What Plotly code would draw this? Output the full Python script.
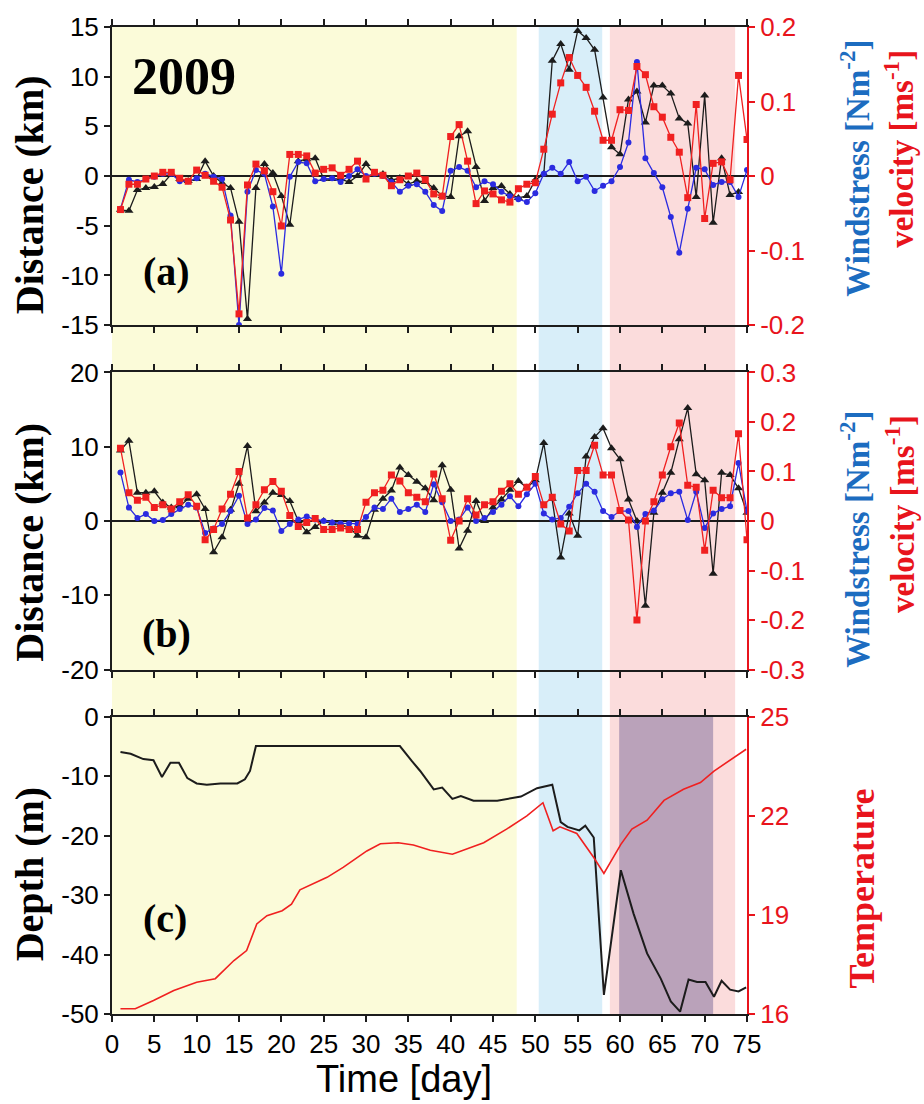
import plotly.graph_objects as go

# ---------------- data ----------------
days = list(range(1, 76))

# panel (a)
dist_a = [-3.4, -3.5, -1.4, -1.2, -1.1, -0.8, 0.2, -0.3, -0.5, -0.3,
          1.5, 0.0, -0.7, -1.2, -4.6, -14.4, -1.2, 1.2, 0.3, -2.0,
          -4.9, 1.5, 1.7, 1.8, -0.3, -0.3, -0.3, -0.6, 0.0, 1.2,
          0.2, 0.2, -0.4, -0.2, -0.8, -0.5, -0.6, -1.2, -2.0, -2.1,
          4.0, 4.5, 0.9, -2.5, -1.2, -1.0, -1.8, -2.2, -2.0, -0.4,
          0.2, 11.6, 13.3, 10.7, 14.6, 13.9, 12.7, 7.9, 2.9, 2.2,
          7.7, 8.5, 5.4, 9.1, 9.1, 8.3, 5.8, 5.3, -2.1, 8.1,
          -4.7, 1.8, -1.9, -1.6, None]
vel_a = [-0.045, -0.011, -0.011, -0.004, 0.0, 0.005, 0.005, -0.003, -0.007, 0.008,
         0.001, -0.007, -0.015, -0.059, -0.185, -0.012, 0.016, 0.007, -0.021, -0.067,
         0.029, 0.029, 0.027, 0.004, 0.009, 0.011, 0.001, 0.009, 0.020, -0.004,
         0.005, 0.001, -0.013, -0.005, 0.0, 0.004, -0.005, -0.024, -0.027, 0.053,
         0.069, 0.020, -0.037, -0.020, -0.024, -0.032, -0.035, -0.017, -0.011, -0.009,
         0.036, 0.083, 0.125, 0.159, 0.135, 0.119, 0.087, 0.048, 0.048, 0.089,
         0.088, 0.147, 0.136, 0.093, 0.079, 0.052, 0.032, -0.029, 0.096, -0.057,
         0.017, 0.019, -0.005, 0.135, 0.049]
ws_a = [-0.044, -0.005, -0.008, -0.004, -0.001, 0.003, 0.003, -0.007, -0.007, -0.003,
        0.003, -0.001, -0.004, -0.053, -0.200, -0.021, 0.008, 0.003, -0.041, -0.131,
        -0.001, 0.019, 0.017, -0.007, -0.004, -0.003, -0.008, 0.0, 0.009, 0.0,
        0.003, 0.0, -0.008, -0.021, -0.013, -0.011, -0.021, -0.039, -0.047, 0.007,
        0.012, 0.007, -0.015, -0.007, -0.011, -0.021, -0.027, -0.031, -0.035, -0.023,
        0.003, 0.011, 0.003, 0.019, -0.007, -0.001, -0.020, -0.013, -0.007, 0.012,
        0.045, 0.153, 0.024, 0.004, -0.015, -0.055, -0.103, -0.044, 0.011, 0.009,
        -0.012, -0.008, -0.008, -0.028, 0.008]

# panel (b)
dist_b = [9.5, 10.8, 3.8, 3.8, 4.0, 2.5, 1.8, 2.0, 3.0, 3.6,
          1.6, -4.2, -2.2, 1.5, 5.0, 10.1, 1.3, 2.5, 3.8, 3.5,
          2.7, 0.0, -1.5, -0.8, 0.0, -0.3, -0.5, -0.8, -2.0, -2.2,
          1.5, 3.0, 4.1, 7.2, 6.2, 5.3, 4.4, 2.8, 7.5, 4.2,
          -3.7, -1.3, 2.7, 0.0, 1.8, 2.9, 4.2, 5.4, 4.5, 5.5,
          10.5, 3.0, -4.9, 1.0, -2.0, 8.7, 11.3, 12.5, 9.8, 8.3,
          2.9, 0.0, -11.4, 1.1, 3.8, 6.5, 11.0, 15.2, 6.3, 5.5,
          -7.1, 6.5, 6.2, 4.4, 1.1]
vel_b = [0.147, 0.057, 0.042, 0.048, 0.027, 0.033, 0.024, 0.039, 0.053, 0.030,
         -0.038, -0.017, 0.024, 0.054, 0.100, 0.006, 0.033, 0.063, 0.080, 0.060,
         0.011, -0.011, -0.003, 0.005, -0.017, -0.017, -0.014, -0.017, -0.017, 0.038,
         0.057, 0.062, 0.093, 0.081, 0.057, 0.048, 0.039, 0.095, 0.045, -0.039,
         0.0, 0.045, 0.012, 0.033, 0.039, 0.060, 0.075, 0.054, 0.068, 0.090,
         0.033, 0.048, -0.006, -0.020, 0.102, 0.102, 0.153, 0.093, 0.093, 0.021,
         0.002, -0.200, 0.0, 0.039, 0.093, 0.150, 0.198, 0.072, 0.068, -0.059,
         0.062, 0.047, 0.047, 0.176, -0.038]
ws_b = [0.098, 0.027, 0.006, 0.014, 0.0, 0.002, 0.014, 0.024, 0.033, 0.027,
        -0.024, -0.015, -0.006, 0.020, 0.051, -0.006, 0.003, 0.026, 0.021, -0.020,
        -0.006, 0.003, 0.009, 0.003, 0.0, -0.003, -0.005, -0.005, -0.006, 0.008,
        0.027, 0.024, 0.045, 0.018, 0.024, 0.033, 0.018, 0.074, 0.038, 0.0,
        0.003, 0.027, 0.0, 0.006, 0.018, 0.033, 0.050, 0.030, 0.054, 0.075,
        0.015, 0.003, 0.006, 0.029, 0.056, 0.075, 0.059, 0.020, 0.008, 0.020,
        0.020, -0.012, 0.014, 0.021, 0.044, 0.056, 0.059, 0.002, 0.059, -0.014,
        0.015, 0.024, 0.030, 0.117, 0.020]

# panel (c)
depth_day = [1.0, 2.2, 3.7, 4.9, 5.9, 6.9, 7.9, 8.9, 10.0, 11.2,
             12.8, 14.8, 15.7, 16.3, 17.0, 34.0, 35.4, 36.4, 38.0, 39.0,
             40.2, 41.2, 42.7, 45.5, 48.3, 50.2, 52.0, 53.0, 53.8, 55.2,
             55.9, 56.9, 58.1, 60.1, 61.6, 63.2, 64.8, 66.0, 67.1, 68.1,
             69.1, 70.1, 71.1, 72.0, 73.0, 74.0, 74.9]
depth_m = [-5.9, -6.2, -7.1, -7.3, -10.1, -7.7, -7.7, -10.3, -11.2, -11.4,
           -11.2, -11.2, -10.5, -9.1, -4.9, -4.9, -7.4, -9.1, -12.2, -11.9,
           -13.8, -13.3, -14.1, -14.1, -13.4, -12.0, -11.4, -17.7, -18.5, -19.1,
           -18.3, -20.3, -46.8, -25.8, -33.1, -39.8, -44.0, -47.9, -49.6, -44.2,
           -44.6, -44.6, -47.1, -44.4, -45.9, -46.2, -45.5]
temp_day = [1.0, 2.75, 4.9, 7.3, 10.0, 12.2, 14.4, 15.9, 17.1, 18.3,
            20.1, 21.2, 22.2, 23.8, 25.4, 27.3, 28.5, 30.1, 31.7, 33.8,
            35.6, 37.6, 40.2, 41.5, 43.9, 46.6, 49.0, 50.9, 52.1, 52.9,
            54.9, 56.9, 58.1, 60.1, 61.4, 63.2, 65.2, 67.5, 69.5, 71.1,
            72.6, 74.9]
temp_c = [16.16, 16.16, 16.41, 16.71, 16.96, 17.07, 17.62, 17.92, 18.73, 18.98,
          19.13, 19.33, 19.76, 19.96, 20.14, 20.44, 20.66, 20.94, 21.16, 21.19,
          21.12, 20.96, 20.84, 20.96, 21.19, 21.6, 22.0, 22.4, 21.55, 21.67,
          21.47, 20.74, 20.26, 21.14, 21.6, 21.87, 22.47, 22.81, 23.01, 23.36,
          23.61, 24.02]

# shaded periods (days)
yellow_period = [0, 47.8]
blue_period = [50.4, 57.9]
pink_period = [58.8, 73.6]
purple_period = [59.9, 71.0]

x_ticks = list(range(0, 80, 5))
x_ticklabels = [str(v) for v in x_ticks]
ya_ticks = [-15, -10, -5, 0, 5, 10, 15]
ya_labels = ["-15", "-10", "-5", "0", "5", "10", "15"]
ya2_ticks = [-0.2, -0.1, 0, 0.1, 0.2]
ya2_labels = ["-0.2", "-0.1", "0", "0.1", "0.2"]
yb_ticks = [-20, -10, 0, 10, 20]
yb_labels = ["-20", "-10", "0", "10", "20"]
yb2_ticks = [-0.3, -0.2, -0.1, 0, 0.1, 0.2, 0.3]
yb2_labels = ["-0.3", "-0.2", "-0.1", "0", "0.1", "0.2", "0.3"]
yc_ticks = [-50, -40, -30, -20, -10, 0]
yc_labels = ["-50", "-40", "-30", "-20", "-10", "0"]
yc2_ticks = [16, 19, 22, 25]
yc2_labels = ["16", "19", "22", "25"]

# ---------------- style ----------------
RED = "#f02020"
RED_AX = "#e8141c"
BLUE = "#2b2be0"
BLACK = "#1c1c1c"
WS_BLUE = "#1c6cc0"
SANS = "Liberation Sans, Arial, sans-serif"
SERIF = "Liberation Serif, Times New Roman, serif"
TICK = dict(family=SANS, size=26, color="black")
TICK_R = dict(family=SANS, size=26, color=RED_AX)

fig = go.Figure()


def add_series(xa, yl, yr, dist, vel, ws):
    fig.add_trace(go.Scatter(x=days, y=dist, xaxis=xa, yaxis=yl, mode="lines+markers",
                             line=dict(color=BLACK, width=1.3),
                             marker=dict(symbol="triangle-up", size=8, color=BLACK),
                             connectgaps=False, showlegend=False))
    fig.add_trace(go.Scatter(x=days, y=ws, xaxis=xa, yaxis=yr, mode="lines+markers",
                             line=dict(color=BLUE, width=1.3),
                             marker=dict(symbol="circle", size=6, color=BLUE),
                             showlegend=False))
    fig.add_trace(go.Scatter(x=days, y=vel, xaxis=xa, yaxis=yr, mode="lines+markers",
                             line=dict(color=RED, width=1.3),
                             marker=dict(symbol="square", size=7, color=RED),
                             showlegend=False))


add_series("x", "y", "y2", dist_a, vel_a, ws_a)
add_series("x2", "y3", "y4", dist_b, vel_b, ws_b)

fig.add_trace(go.Scatter(x=depth_day, y=depth_m, xaxis="x3", yaxis="y5", mode="lines",
                         line=dict(color=BLACK, width=2), showlegend=False))
fig.add_trace(go.Scatter(x=temp_day, y=temp_c, xaxis="x3", yaxis="y6", mode="lines",
                         line=dict(color=RED, width=1.6), showlegend=False))

dom_a = [0.698, 1.0]
dom_b = [0.349, 0.650]
dom_c = [0.0, 0.301]


def xax(anchor, labels):
    return dict(domain=[0, 1], anchor=anchor, range=[0, 75], showline=True, linecolor=BLACK,
                linewidth=2, mirror="ticks", ticks="outside", ticklen=6, tickwidth=2,
                tickcolor=BLACK, tickvals=x_ticks, ticktext=x_ticklabels,
                showticklabels=labels, tickfont=TICK, showgrid=False, zeroline=False)


def yleft(dom, anchor, rng, tv, tt, zero):
    return dict(domain=dom, anchor=anchor, range=rng, showline=True, linecolor=BLACK,
                linewidth=2, ticks="outside", ticklen=6, tickwidth=2, tickcolor=BLACK,
                tickvals=tv, ticktext=tt, tickfont=TICK, showgrid=False,
                zeroline=zero, zerolinecolor=BLACK, zerolinewidth=2)


def yright(over, anchor, rng, tv, tt):
    return dict(overlaying=over, anchor=anchor, side="right", range=rng, showline=True,
                linecolor=RED_AX, linewidth=2, ticks="outside", ticklen=6, tickwidth=2,
                tickcolor=RED_AX, tickvals=tv, ticktext=tt, tickfont=TICK_R,
                showgrid=False, zeroline=False)


shapes = []
for per, col in [(yellow_period, "#fbfbd9"), (blue_period, "#d8eef9"), (pink_period, "#fbdcdc")]:
    shapes.append(dict(type="rect", xref="x", yref="paper", x0=per[0], x1=per[1], y0=0, y1=1,
                       fillcolor=col, line=dict(width=0), layer="below"))
shapes.append(dict(type="rect", xref="x3", yref="y5", x0=purple_period[0], x1=purple_period[1],
                   y0=-50, y1=0, fillcolor="#baa2ba", line=dict(width=0), layer="below"))


def ann(text, x, y, size, color="black", family=SERIF, angle=0, xref="paper", yref="paper", bold=True):
    return dict(text=text, x=x, y=y, xref=xref, yref=yref, showarrow=False, textangle=angle,
                xanchor="center", yanchor="middle",
                font=dict(family=family, size=size, color=color, weight="bold" if bold else "normal"))


annotations = [
    ann("2009", 8.5, 10.0, 52, xref="x", yref="y"),
    ann("(a)", 6.4, -9.6, 40, xref="x", yref="y"),
    ann("(b)", 6.4, -15.2, 40, xref="x2", yref="y3"),
    ann("(c)", 6.3, -34.0, 40, xref="x3", yref="y5"),
    ann("Distance (km)", -0.13, 0.83, 40, angle=-90),
    ann("Distance (km)", -0.13, 0.478, 40, angle=-90),
    ann("Depth (m)", -0.13, 0.142, 40, angle=-90),
    ann("Windstress [Nm<sup>-2</sup>]", 1.171, 0.857, 33, color=WS_BLUE, angle=-90),
    ann("velocity [ms<sup>-1</sup>]", 1.240, 0.877, 33, color=RED_AX, angle=-90),
    ann("Windstress [Nm<sup>-2</sup>]", 1.171, 0.481, 33, color=WS_BLUE, angle=-90),
    ann("velocity [ms<sup>-1</sup>]", 1.240, 0.507, 33, color=RED_AX, angle=-90),
    ann("Temperature", 1.181, 0.127, 36, color=RED_AX, angle=-90),
    ann("Time [day]", 0.46, -0.066, 38, family=SANS, bold=False),
]

fig.update_layout(
    width=924, height=1104,
    margin=dict(l=112, r=177, t=23, b=90),
    paper_bgcolor="white", plot_bgcolor="rgba(0,0,0,0)",
    showlegend=False,
    xaxis=xax("y", False),
    xaxis2=xax("y3", False),
    xaxis3=xax("y5", True),
    yaxis=yleft(dom_a, "x", [-15, 15], ya_ticks, ya_labels, True),
    yaxis2=yright("y", "x", [-0.2, 0.2], ya2_ticks, ya2_labels),
    yaxis3=yleft(dom_b, "x2", [-20, 20], yb_ticks, yb_labels, True),
    yaxis4=yright("y3", "x2", [-0.3, 0.3], yb2_ticks, yb2_labels),
    yaxis5=yleft(dom_c, "x3", [-50, 0], yc_ticks, yc_labels, False),
    yaxis6=yright("y5", "x3", [16, 25], yc2_ticks, yc2_labels),
    shapes=shapes,
    annotations=annotations,
)

fig.write_html("out.html")
